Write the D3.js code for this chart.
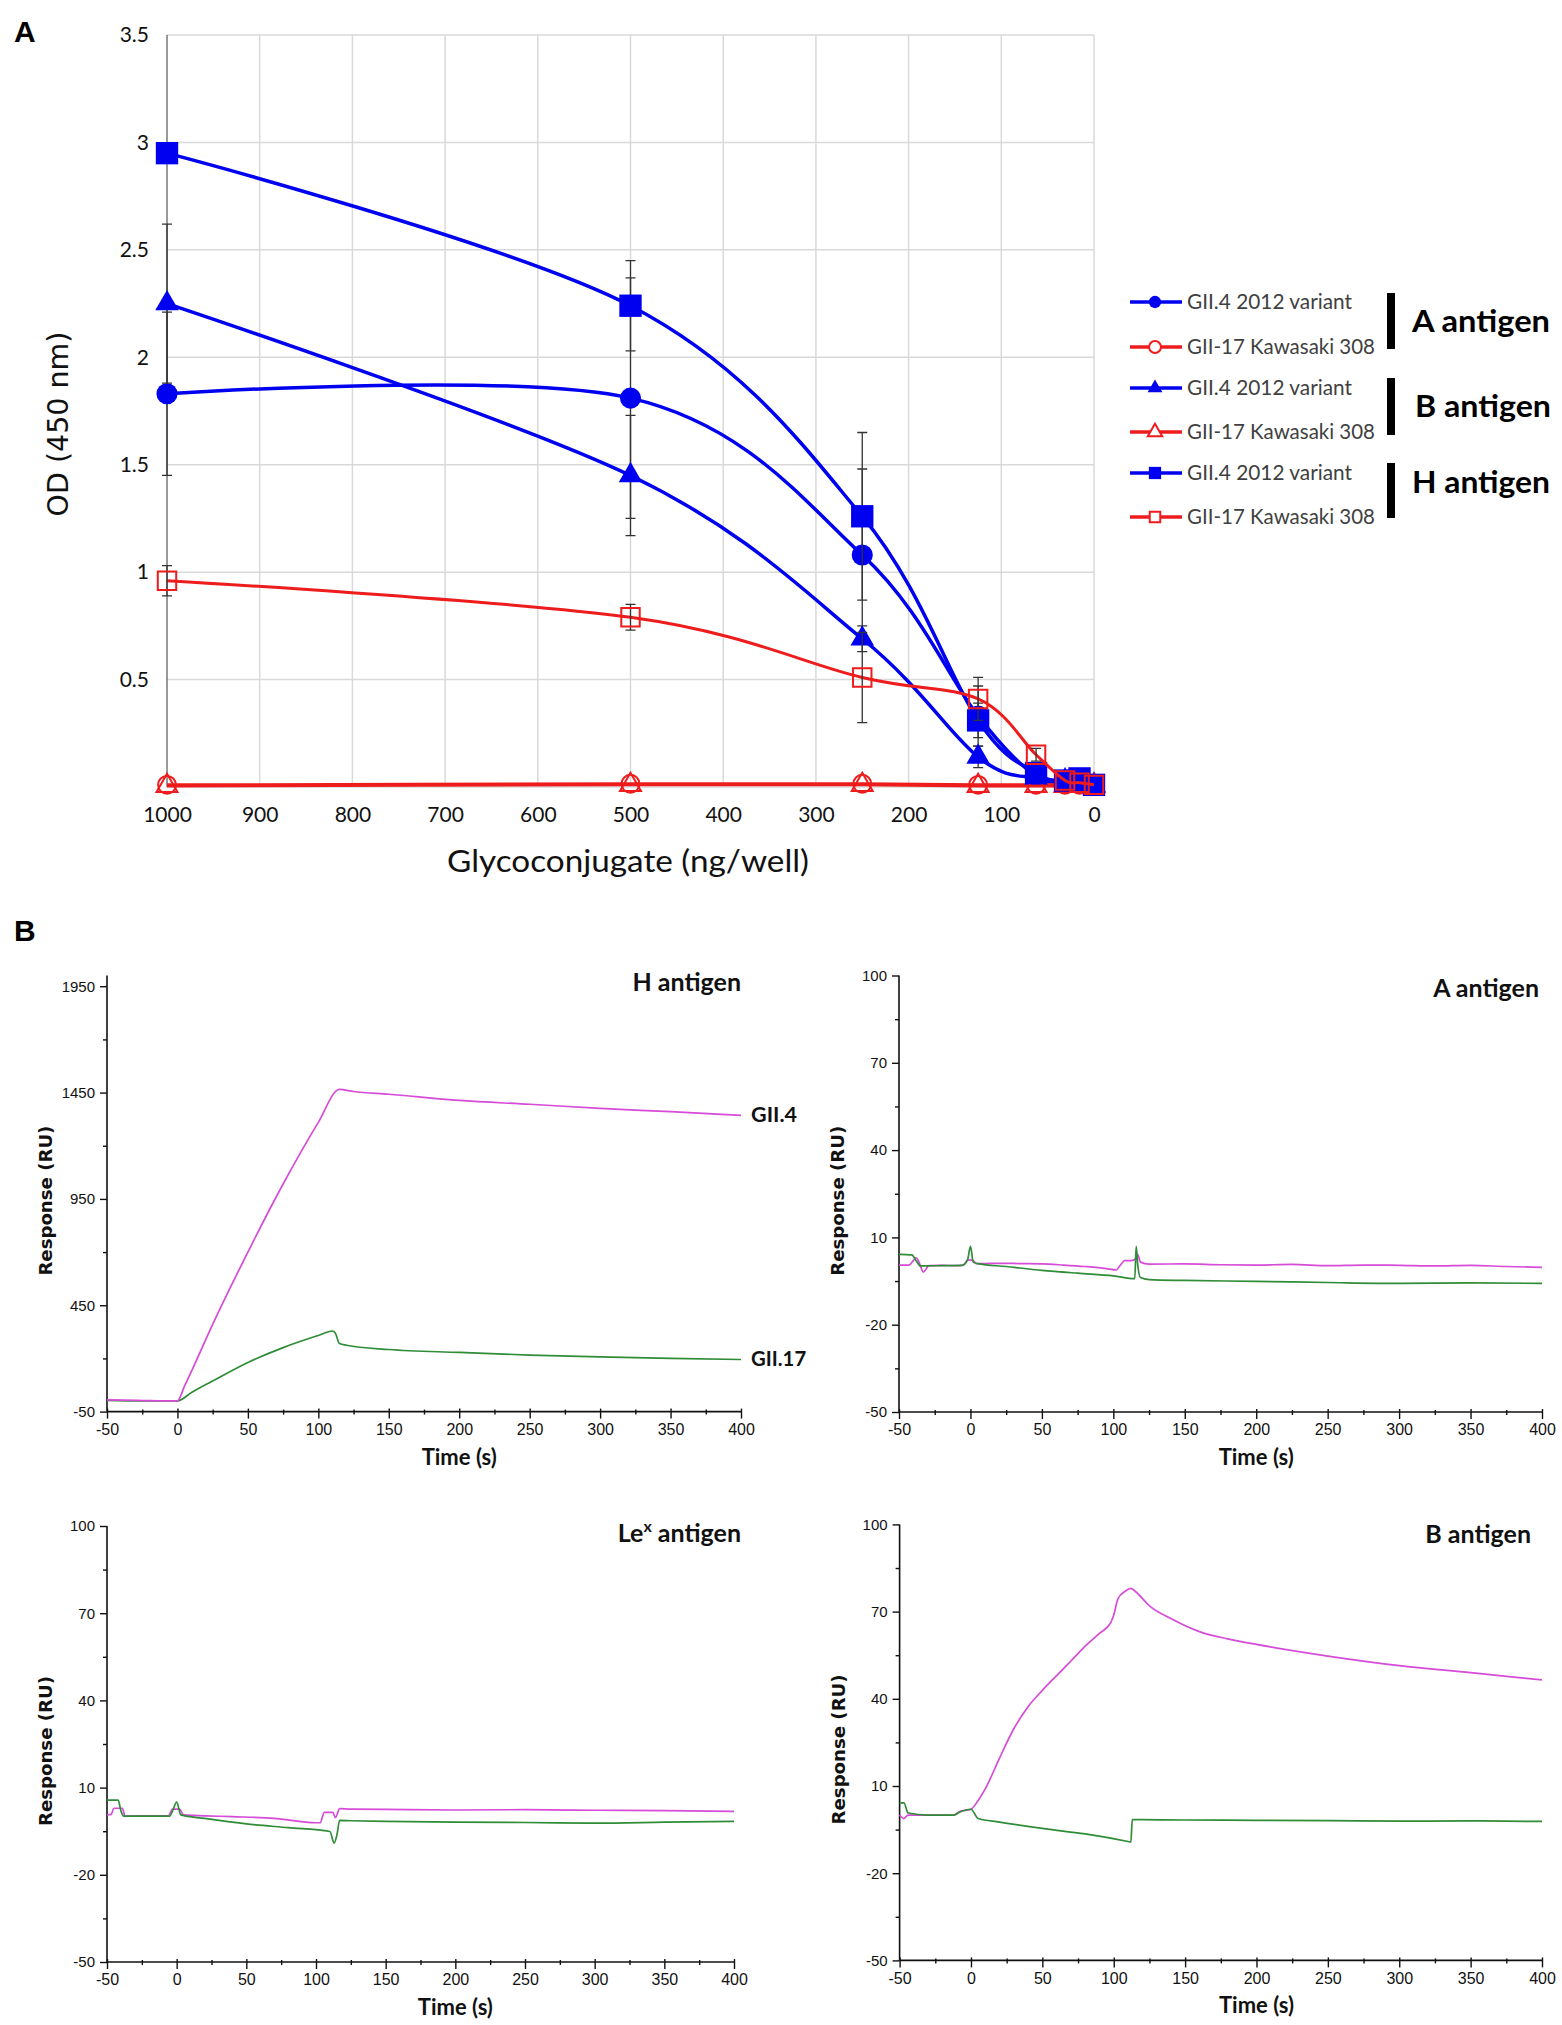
<!DOCTYPE html>
<html lang="en">
<head>
<meta charset="UTF-8">
<title>Glycoconjugate binding</title>
<script src="https://cdn.jsdelivr.net/npm/d3@7/dist/d3.min.js"></script>
<style>
  body { margin: 0; background: #fff; }
  svg text { font-family: Lato, 'Open Sans', sans-serif; }
</style>
</head>
<body>
<script>
// ---------- panel A : ELISA, OD (450 nm) vs glycoconjugate ----------
var conc = [1000, 500, 250, 125, 62.5, 31.25, 15.625, 0];
var xTicksA = [1000, 900, 800, 700, 600, 500, 400, 300, 200, 100, 0];
var yTicksA = [0.5, 1, 1.5, 2, 2.5, 3, 3.5];

var aGII4  = [1.83, 1.81, 1.08, 0.33, 0.05, 0.03, 0.02, 0.01];
var aGII17 = [0.01, 0.015, 0.015, 0.01, 0.01, 0.01, 0.01, 0.01];
var bGII4  = [2.25, 1.45, 0.69, 0.14, 0.04, 0.03, 0.02, 0.01];
var bGII17 = [0.005, 0.01, 0.01, 0.005, 0.005, 0.005, 0.005, 0.005];
var hGII4  = [2.95, 2.24, 1.26, 0.31, 0.065, 0.03, 0.04, 0.01];
var hGII17 = [0.96, 0.79, 0.51, 0.41, 0.15, 0.03, 0.02, 0.01];

// standard deviations (0 = no bar drawn)
var aGII4Err  = [0.38, 0.56, 0.40, 0.14, 0.02, 0, 0, 0];
var bGII4Err  = [0.37, 0.28, 0.06, 0.05, 0.02, 0, 0, 0];
var hGII4Err  = [0.03, 0.21, 0.39, 0.08, 0.02, 0, 0, 0];
var hGII17Err = [0.07, 0.06, 0.21, 0.10, 0.03, 0, 0, 0];

var legendNames = ['GII.4 2012 variant', 'GII-17 Kawasaki 308'];
var antigenNames = ['A antigen', 'B antigen', 'H antigen'];

// ---------- panel B : SPR sensorgrams, response (RU) vs time (s) ----------
var timeTicks = [-50, 0, 50, 100, 150, 200, 250, 300, 350, 400];

// H antigen
var hMagT = [-50, -25, 0, 5, 10, 25, 50, 75, 100, 115, 125, 150, 200, 250, 300, 350, 400];
var hMagV = [5, 2, 0, 70, 140, 360, 700, 1020, 1310, 1465, 1455, 1442, 1413, 1395, 1376, 1360, 1343];
var hGrnT = [-50, -25, 0, 10, 25, 50, 75, 100, 110, 112, 115, 120, 150, 200, 250, 300, 350, 400];
var hGrnV = [3, 0, 0, 40, 94, 181, 251, 308, 329, 320, 270, 262, 242, 228, 216, 207, 200, 195];

// A antigen
var aMagT = [-50, -43, -40, -38, -36, -33, -29, -20, -10, -5, -2, 0, 2, 4, 10, 20, 35, 50, 65, 80,
             95, 102, 105, 108, 112, 115, 117, 119, 125, 150, 175, 200, 225, 250, 275, 300, 325, 350, 375, 400];
var aMagV = [0.5, 0.5, 2.0, 3.0, 1.5, -1.9, 0.3, 0.4, 0.3, 0.5, 2.2, 2.3, 2.0, 1.0, 1.0, 1.1, 1.0, 0.9, 0.5, 0.0,
             -0.7, -1.2, 0.5, 2.0, 2.0, 2.4, 4.2, 1.5, 0.8, 0.9, 0.6, 0.5, 0.7, 0.3, 0.5, 0.4, 0.2, 0.4, 0.0, -0.3];
var aGrnT = [-50, -41, -38, -35, -20, -6, -2, 0, 2, 5, 25, 50, 75, 100, 115, 116, 117, 119, 125, 150, 200, 250, 300, 350, 400];
var aGrnV = [4.2, 4.0, 2.0, 0.2, 0.3, 0.4, 2.3, 6.9, 1.5, 1.0, 0.0, -1.3, -2.3, -3.2, -4.2, 6.9, 1.0, -3.8, -4.5, -4.8, -5.1, -5.5, -5.8, -5.6, -5.8];

// Le x antigen
var lMagT = [-50, -47, -45, -39, -37, -20, -6, -3, 2, 5, 20, 40, 70, 100, 103, 106, 112, 114, 117, 125, 150, 200, 250, 300, 350, 400];
var lMagV = [0.6, 0.8, 2.9, 2.9, 0.2, 0.3, 0.3, 2.6, 2.6, 0.6, 0.3, 0.0, -0.6, -2.1, -2.1, 1.5, 1.5, -0.3, 2.8, 2.6, 2.5, 2.3, 2.4, 2.2, 2.1, 1.8];
var lGrnT = [-50, -42, -40, -38, -20, -5, -3, 0, 3, 20, 50, 80, 110, 113, 115, 117, 125, 150, 200, 250, 300, 350, 400];
var lGrnV = [5.7, 5.7, 2.0, 0.2, 0.2, 0.2, 1.9, 5.0, 0.6, -0.6, -2.5, -3.8, -5.1, -9.1, -6.3, -1.3, -1.4, -1.6, -1.9, -2.0, -2.2, -1.9, -1.6];

// B antigen
var bMagT = [-50, -47, -44, -30, -12, -8, 0, 5, 10, 20, 30, 40, 50, 60, 70, 80, 90, 98, 100, 103,
             108, 112, 115, 125, 140, 160, 180, 200, 250, 300, 350, 400];
var bMagV = [0.0, -1.2, 0.0, 0.0, 0.0, 1.2, 2.0, 5.0, 9.0, 19.6, 29.7, 37.3, 42.9, 48.0, 53.0, 58.1, 62.5, 66.3, 68.8, 74.5,
             77.0, 78.0, 77.0, 72.0, 67.6, 63.1, 60.6, 58.7, 54.7, 51.4, 49.0, 46.5];
var bGrnT = [-50, -47, -44, -30, -12, -8, 0, 5, 20, 50, 80, 110, 112, 113, 120, 150, 200, 250, 300, 350, 400];
var bGrnV = [4.2, 4.2, 0.7, 0.0, 0.0, 1.0, 2.0, -1.2, -2.4, -4.6, -6.5, -9.1, -9.3, -1.6, -1.6, -1.7, -1.8, -1.9, -2.1, -2.0, -2.2];

var hTicks = [-50, 450, 950, 1450, 1950];
var smallTicks = [-50, -20, 10, 40, 70, 100];

//colors
var blue = '#0000f0';
var red = '#ee1c1c';
var magenta = '#d64bd8';
var green = '#2f8c37';

var svg = d3.select('body').append('svg')
    .attr('width', 1562)
    .attr('height', 2025);

// panel letters
svg.append('text').text('A').attr('x', 14).attr('y', 42)
    .style('font-family', "'Liberation Sans', Arial, sans-serif")
    .attr('font-weight', 'bold').attr('font-size', 30);
svg.append('text').text('B').attr('x', 14).attr('y', 941)
    .style('font-family', "'Liberation Sans', Arial, sans-serif")
    .attr('font-weight', 'bold').attr('font-size', 30);

// ================= panel A =================
var xA = d3.scaleLinear().domain([1000, 0]).range([167, 1094]);
var yA = d3.scaleLinear().domain([0, 3.5]).range([787, 35]);

var pa = svg.append('g');

// gridlines
pa.selectAll('.vgrid').data(xTicksA.slice(1)).enter().append('line')
    .attr('x1', function(d) { return xA(d); }).attr('x2', function(d) { return xA(d); })
    .attr('y1', yA(0)).attr('y2', yA(3.5))
    .attr('stroke', '#d9d9d9').attr('stroke-width', 1.5);
pa.selectAll('.hgrid').data([0].concat(yTicksA)).enter().append('line')
    .attr('x1', xA(1000)).attr('x2', xA(0))
    .attr('y1', function(d) { return yA(d); }).attr('y2', function(d) { return yA(d); })
    .attr('stroke', '#d9d9d9').attr('stroke-width', 1.5);
// y axis line
pa.append('line').attr('x1', xA(1000)).attr('x2', xA(1000))
    .attr('y1', yA(0)).attr('y2', yA(3.5))
    .attr('stroke', '#555').attr('stroke-width', 1.2);

// tick labels
var yAxA = pa.append('g').attr('transform', 'translate(' + (xA(1000) - 18) + ',0)')
    .call(d3.axisLeft(yA).tickValues(yTicksA).tickSize(0).tickPadding(0)
        .tickFormat(function(d) { return String(d); }));
yAxA.select('.domain').remove();
yAxA.selectAll('text').attr('font-size', 21).attr('fill', '#111')
    .style('font-family', 'Lato, sans-serif');

var xAxA = pa.append('g').attr('transform', 'translate(0,' + (yA(0) + 20) + ')')
    .call(d3.axisBottom(xA).tickValues(xTicksA).tickSize(0).tickPadding(0)
        .tickFormat(function(d) { return String(d); }));
xAxA.select('.domain').remove();
xAxA.selectAll('text').attr('font-size', 21).attr('fill', '#111')
    .style('font-family', 'Lato, sans-serif');

// axis titles
pa.append('text').text('Glycoconjugate (ng/well)')
    .attr('x', 628).attr('y', 872).attr('text-anchor', 'middle')
    .attr('font-size', 31).attr('fill', '#111')
    .attr('textLength', 362).attr('lengthAdjust', 'spacingAndGlyphs');
pa.append('text').text('OD (450 nm)')
    .attr('transform', 'translate(68,424) rotate(-90)')
    .attr('text-anchor', 'middle')
    .style('font-family', "'DejaVu Sans', Verdana, sans-serif")
    .attr('font-size', 28).attr('fill', '#111')
    .attr('textLength', 185).attr('lengthAdjust', 'spacingAndGlyphs');

// series (legend order: A, B, H antigen; GII.4 then GII-17)
var seriesA = [
    { vals: aGII4,  err: aGII4Err,  color: blue, sym: d3.symbolCircle,   fill: true,  size: 350, lsize: 120 },
    { vals: aGII17, err: null,      color: red,  sym: d3.symbolCircle,   fill: false, size: 250, lsize: 110 },
    { vals: bGII4,  err: bGII4Err,  color: blue, sym: d3.symbolTriangle, fill: true,  size: 240, lsize: 95 },
    { vals: bGII17, err: null,      color: red,  sym: d3.symbolTriangle, fill: false, size: 190, lsize: 90 },
    { vals: hGII4,  err: hGII4Err,  color: blue, sym: d3.symbolSquare,   fill: true,  size: 500, lsize: 150 },
    { vals: hGII17, err: hGII17Err, color: red,  sym: d3.symbolSquare,   fill: false, size: 340, lsize: 110 }
];

var lineA = d3.line()
    .x(function(d) { return xA(d.c); })
    .y(function(d) { return yA(d.v); })
    .curve(d3.curveCardinal.tension(0));

seriesA.forEach(function(s) {
    var pts = conc.map(function(c, i) {
        return { c: c, v: s.vals[i], e: s.err ? s.err[i] : 0 };
    });
    pa.append('path').datum(pts)
        .attr('d', lineA)
        .attr('fill', 'none')
        .attr('stroke', s.color)
        .attr('stroke-width', s.fill ? 3.5 : 3);

    var eb = pts.filter(function(d) { return d.e > 0; });
    pa.selectAll(null).data(eb).enter().append('path')
        .attr('d', function(d) {
            var x = xA(d.c), y1 = yA(d.v - d.e), y2 = yA(d.v + d.e);
            return 'M' + x + ',' + y1 + 'V' + y2 +
                'M' + (x - 5) + ',' + y1 + 'H' + (x + 5) +
                'M' + (x - 5) + ',' + y2 + 'H' + (x + 5);
        })
        .attr('fill', 'none').attr('stroke', '#333').attr('stroke-width', 1.3);

    pa.selectAll(null).data(pts).enter().append('path')
        .attr('transform', function(d) { return 'translate(' + xA(d.c) + ',' + yA(d.v) + ')'; })
        .attr('d', d3.symbol().type(s.sym).size(s.size))
        .attr('fill', s.fill ? s.color : 'none')
        .attr('stroke', s.color)
        .attr('stroke-width', s.fill ? 0 : 2);
});

// legend
var legRowY = [302, 347, 388, 432, 473, 517];
var leg = svg.append('g');
seriesA.forEach(function(s, i) {
    var y = legRowY[i];
    leg.append('line').attr('x1', 1130).attr('x2', 1182).attr('y1', y).attr('y2', y)
        .attr('stroke', s.color).attr('stroke-width', 3.5);
    leg.append('path').attr('transform', 'translate(1155,' + y + ')')
        .attr('d', d3.symbol().type(s.sym).size(s.lsize))
        .attr('fill', s.fill ? s.color : '#fff')
        .attr('stroke', s.color).attr('stroke-width', s.fill ? 0 : 2);
    var name = legendNames[i % 2];
    leg.append('text').text(name)
        .attr('x', 1187).attr('y', y + 7)
        .attr('font-size', 21).attr('fill', '#404040')
        .attr('textLength', i % 2 ? 188 : 165).attr('lengthAdjust', 'spacingAndGlyphs');
});
var barTop = [293, 378, 463], barBot = [349, 435, 518], agBase = [332, 417, 493];
antigenNames.forEach(function(n, i) {
    leg.append('rect').attr('x', 1387).attr('y', barTop[i])
        .attr('width', 8).attr('height', barBot[i] - barTop[i]).attr('fill', '#000');
    leg.append('text').text(n)
        .attr('x', i === 1 ? 1415 : 1412).attr('y', agBase[i])
        .attr('font-size', 30).attr('font-weight', 'bold').attr('fill', '#000')
        .attr('textLength', i === 1 ? 136 : 138).attr('lengthAdjust', 'spacingAndGlyphs');
});

// ================= panel B =================
var narrow = "'Liberation Sans Narrow', 'Arial Narrow', 'Liberation Sans', sans-serif";

function sensorgram(cfg) {
    var x = d3.scaleLinear().domain([-50, 400]).range([cfg.x0, cfg.x1]);
    var y = d3.scaleLinear().domain(cfg.yDom).range([cfg.y0, cfg.y1]);
    var g = svg.append('g');

    // minor ticks
    var step = cfg.yTicks[1] - cfg.yTicks[0];
    var yMinor = cfg.yTicks.map(function(d) { return d + step / 2; })
        .filter(function(d) { return d < cfg.yDom[1]; });
    var xMinor = d3.range(-25, 400, 50);

    var xMin = g.append('g').attr('transform', 'translate(0,' + (cfg.y0 - 2) + ')')
        .call(d3.axisBottom(x).tickValues(xMinor).tickSize(5).tickFormat(''));
    xMin.select('.domain').remove();
    var yMin = g.append('g').attr('transform', 'translate(' + cfg.x0 + ',0)')
        .call(d3.axisLeft(y).tickValues(yMinor).tickSize(4).tickFormat(''));
    yMin.select('.domain').remove();

    // major ticks and labels
    var xAx = g.append('g').attr('transform', 'translate(0,' + (cfg.y0 - 3) + ')')
        .call(d3.axisBottom(x).tickValues(timeTicks).tickSize(10).tickPadding(5)
            .tickFormat(function(d) { return String(d); }));
    xAx.select('.domain').remove();
    xAx.selectAll('text').attr('font-size', 16).attr('fill', '#111').style('font-family', narrow);

    var yAx = g.append('g').attr('transform', 'translate(' + cfg.x0 + ',0)')
        .call(d3.axisLeft(y).tickValues(cfg.yTicks).tickSize(7).tickPadding(5)
            .tickFormat(function(d) { return String(d); }));
    yAx.select('.domain').remove();
    yAx.selectAll('text').attr('font-size', 15).attr('fill', '#111').style('font-family', narrow);
    g.selectAll('.tick line').attr('stroke', '#111').attr('stroke-width', 1.4);

    // axis lines
    g.append('line').attr('x1', cfg.x0).attr('x2', cfg.x1).attr('y1', cfg.y0).attr('y2', cfg.y0)
        .attr('stroke', '#111').attr('stroke-width', 1.6);
    g.append('line').attr('x1', cfg.x0).attr('x2', cfg.x0).attr('y1', cfg.y0).attr('y2', cfg.y1)
        .attr('stroke', '#111').attr('stroke-width', 1.6);

    // traces
    var line = d3.line()
        .x(function(d) { return x(d[0]); })
        .y(function(d) { return y(d[1]); })
        .curve(d3.curveMonotoneX);
    cfg.traces.forEach(function(tr) {
        var pts = tr.t.map(function(t, i) { return [t, tr.v[i]]; });
        g.append('path').datum(pts).attr('d', line)
            .attr('fill', 'none').attr('stroke', tr.color).attr('stroke-width', 1.7)
            .attr('stroke-linejoin', 'round');
        if (tr.label) {
            g.append('text').text(tr.label)
                .attr('x', x(400) + 10).attr('y', y(tr.v[tr.v.length - 1]) + 7)
                .attr('font-size', 20).attr('font-weight', 'bold').attr('fill', '#111')
                .attr('textLength', tr.label.length * 9.2).attr('lengthAdjust', 'spacingAndGlyphs');
        }
    });

    // titles
    var tt = g.append('text').attr('x', cfg.titleX).attr('y', cfg.titleY)
        .attr('text-anchor', 'end').attr('font-size', 25).attr('font-weight', 'bold').attr('fill', '#111');
    if (cfg.sup) {
        tt.append('tspan').text(cfg.title[0]);
        tt.append('tspan').text(cfg.sup).attr('font-size', 16).attr('dy', -10);
        tt.append('tspan').text(cfg.title[1]).attr('dy', 10);
    } else {
        tt.text(cfg.title);
    }

    g.append('text').text('Time (s)')
        .attr('x', x(200)).attr('y', cfg.y0 + 53).attr('text-anchor', 'middle')
        .attr('font-size', 22).attr('font-weight', 'bold').attr('fill', '#111');
    g.append('text').text('Response (RU)')
        .attr('transform', 'translate(' + (cfg.x0 - 55) + ',' + ((cfg.y0 + cfg.y1) / 2 + 7) + ') rotate(-90)')
        .attr('text-anchor', 'middle')
        .style('font-family', "'DejaVu Sans', Verdana, sans-serif")
        .attr('font-size', 18).attr('font-weight', 'bold').attr('fill', '#111')
        .attr('textLength', 150).attr('lengthAdjust', 'spacingAndGlyphs');
}

sensorgram({
    x0: 107, x1: 741, y0: 1411.6, y1: 975.6, yDom: [-50, 2000], yTicks: hTicks,
    title: 'H antigen', titleX: 741, titleY: 991,
    traces: [
        { t: hGrnT, v: hGrnV, color: green, label: 'GII.17' },
        { t: hMagT, v: hMagV, color: magenta, label: 'GII.4' }
    ]
});
sensorgram({
    x0: 899, x1: 1542, y0: 1412, y1: 975.5, yDom: [-50, 100], yTicks: smallTicks,
    title: 'A antigen', titleX: 1539, titleY: 997,
    traces: [
        { t: aMagT, v: aMagV, color: magenta },
        { t: aGrnT, v: aGrnV, color: green }
    ]
});
sensorgram({
    x0: 107, x1: 734, y0: 1962, y1: 1526, yDom: [-50, 100], yTicks: smallTicks,
    title: ['Le', ' antigen'], sup: 'x', titleX: 741, titleY: 1542,
    traces: [
        { t: lMagT, v: lMagV, color: magenta },
        { t: lGrnT, v: lGrnV, color: green }
    ]
});
sensorgram({
    x0: 899.6, x1: 1542, y0: 1960.4, y1: 1524.4, yDom: [-50, 100], yTicks: smallTicks,
    title: 'B antigen', titleX: 1531, titleY: 1543,
    traces: [
        { t: bMagT, v: bMagV, color: magenta },
        { t: bGrnT, v: bGrnV, color: green }
    ]
});
</script>
</body>
</html>
